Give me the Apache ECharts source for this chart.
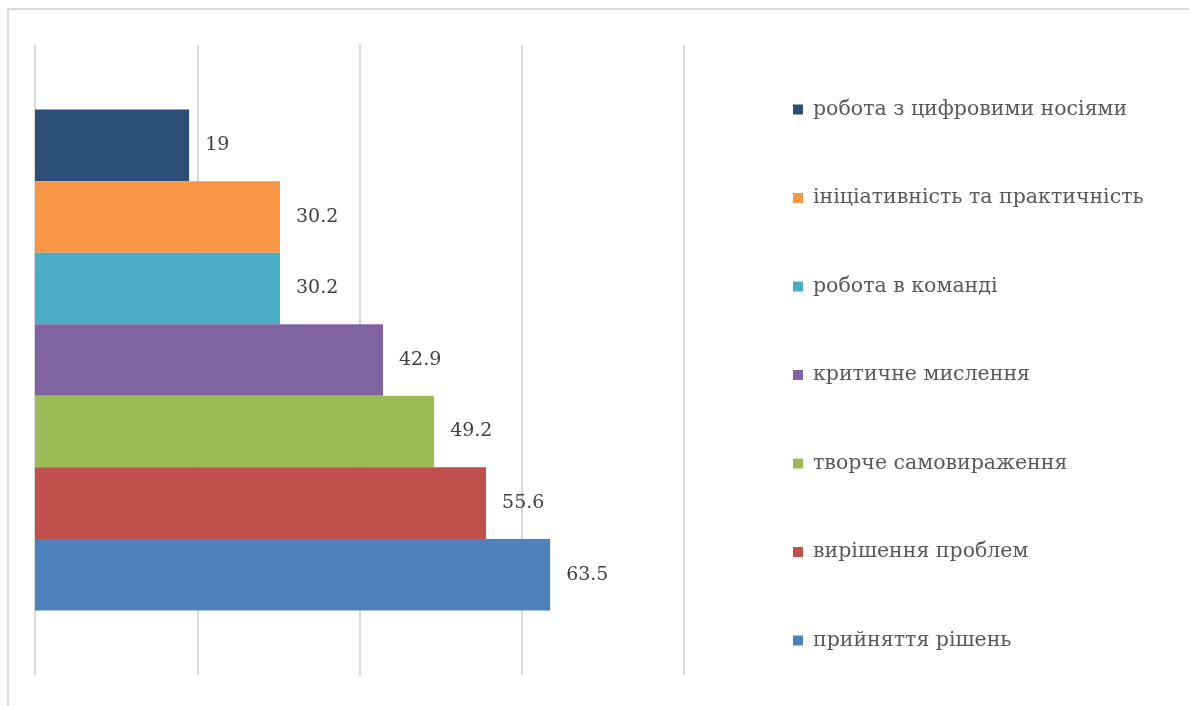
<!DOCTYPE html>
<html>
<head>
<meta charset="utf-8">
<script src="https://cdn.jsdelivr.net/npm/echarts@6/dist/echarts.min.js"></script>
<style>
  html, body { margin: 0; padding: 0; background: #fff; }
  #frame { position: absolute; left: 7px; top: 8px; width: 1182px; height: 698px; box-sizing: border-box; border: 2px solid #d9d9d9; border-right: none; border-bottom: none; }
  #chart { width: 1189px; height: 706px; }
</style>
</head>
<body>
<div id="frame"></div>
<div id="chart"></div>
<script type="text/javascript">
// назви навичок, зверху вниз
var skills = ['робота з цифровими носіями', 'ініціативність та практичність', 'робота в команді',
              'критичне мислення', 'творче самовираження', 'вирішення проблем', 'прийняття рішень'];
var values = [19, 30.2, 30.2, 42.9, 49.2, 55.6, 63.5];
var colors = ['#2C4D75', '#F79646', '#4BACC6', '#8064A2', '#9BBB59', '#C0504D', '#4F81BD'];
var xTicks = [0, 20, 40, 60, 80];

var chart = echarts.init(document.getElementById('chart'));

var series = [];
for (var i = 0; i < skills.length; i++) {
    series.push({
        name: skills[i],
        type: 'bar',
        data: [values[i]],
        barGap: '0%',
        barCategoryGap: '20.5%',
        itemStyle: { color: colors[i] },
        label: {
            show: true,
            position: 'right',
            distance: 16,
            color: '#404040',
            fontSize: 19,
            fontFamily: 'DejaVu Serif'
        }
    });
}

var option = {
    animation: false,
    grid: { left: 35, top: 45, width: 649, height: 630, containLabel: false },
    legend: {
        orient: 'vertical',
        left: 788,
        top: 94,
        itemWidth: 10,
        itemHeight: 10,
        itemGap: 67.5,
        icon: 'rect',
        data: skills,
        textStyle: { color: '#595959', fontSize: 20.5, lineHeight: 20, fontFamily: 'DejaVu Serif', padding: [0, 0, 0, 5] }
    },
    xAxis: {
        type: 'value',
        min: xTicks[0],
        max: xTicks[xTicks.length - 1],
        interval: 20,
        axisLabel: { show: false },
        axisLine: { show: false },
        axisTick: { show: false },
        splitLine: { lineStyle: { color: '#d9d9d9', width: 2 } }
    },
    yAxis: {
        type: 'category',
        data: [''],
        axisLine: { show: false },
        axisTick: { show: false },
        axisLabel: { show: false }
    },
    series: series
};

chart.setOption(option);
</script>
</body>
</html>
